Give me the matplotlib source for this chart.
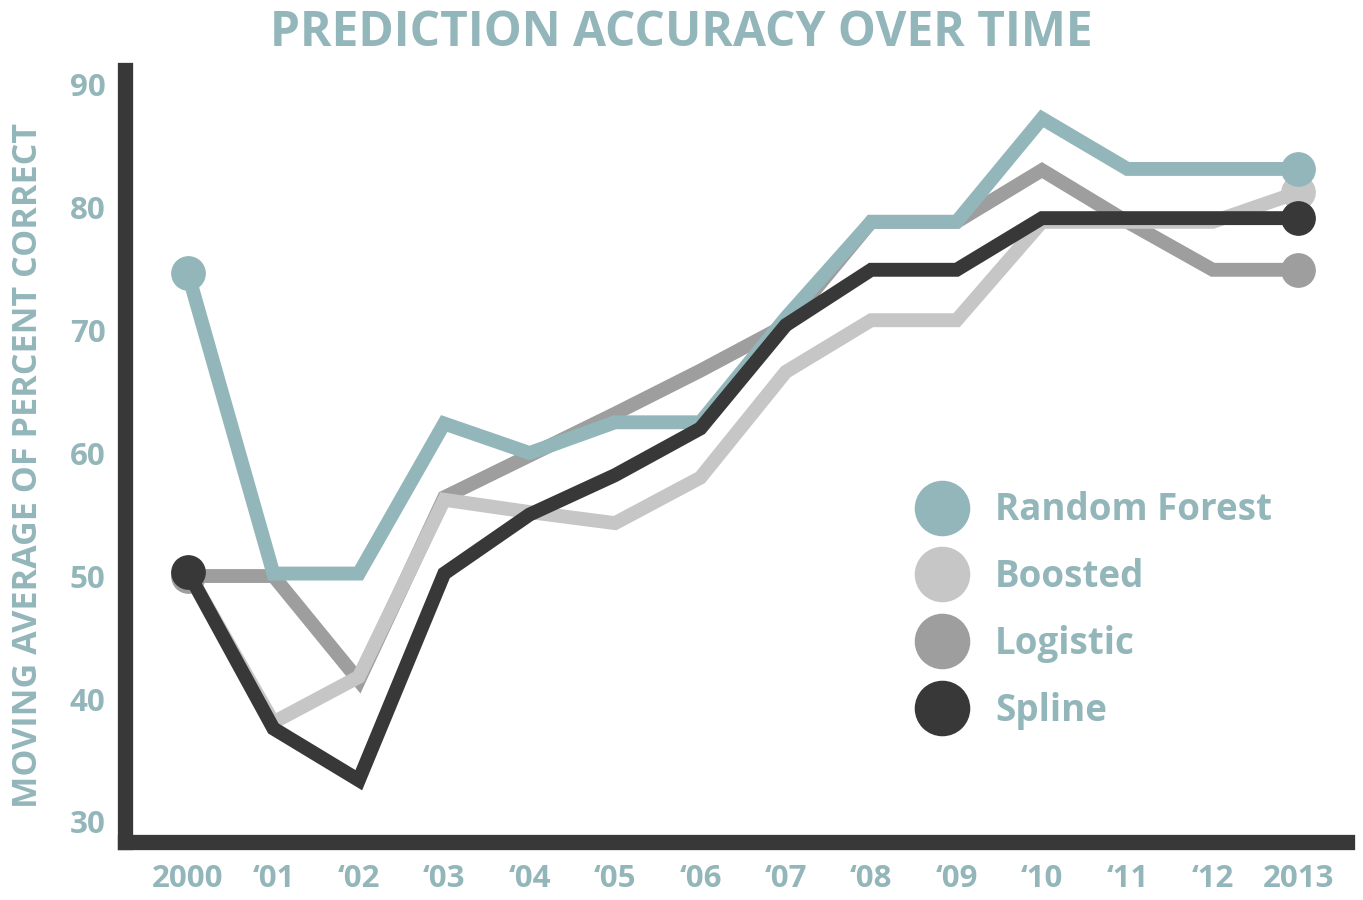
import numpy as np
import matplotlib.pyplot as plt
from matplotlib.lines import Line2D

years = ['2000', '\u201801', '\u201802', '\u201803', '\u201804', '\u201805', '\u201806',
         '\u201807', '\u201808', '\u201809', '\u201810', '\u201811', '\u201812', '2013']

random_forest = [74.6, 50.2, 50.2, 62.4, 60.0, 62.5, 62.5, 71.0, 78.8, 78.8, 87.2, 83.1, 83.1, 83.1]
boosted = [50.3, 38.1, 41.8, 56.2, 55.2, 54.3, 58.0, 66.6, 70.8, 70.8, 78.8, 78.8, 78.8, 81.2]
logistic = [50.0, 50.0, 41.5, 56.4, 59.8, 63.2, 66.7, 70.4, 78.8, 78.8, 83.0, 78.8, 74.9, 74.9]
spline = [50.3, 37.6, 33.4, 50.2, 55.0, 58.2, 62.0, 70.4, 74.9, 74.9, 79.1, 79.1, 79.1, 79.1]

teal = '#93b6ba'
light = '#c6c6c6'
mid = '#9e9e9e'
dark = '#383838'

plt.rcParams['font.family'] = ['Open Sans', 'DejaVu Sans']
plt.rcParams['font.weight'] = 'bold'

fig = plt.figure(figsize=(13.63, 9), dpi=100)
ax = fig.add_axes([0.0917, 0.0644, 0.8969, 0.8583])

x = np.arange(len(years))
lw = 10
ms = 24

# drawing order: logistic at the bottom, spline on top
ax.plot(x, logistic, color=mid, lw=lw, solid_joinstyle='miter', zorder=2)
ax.plot(x[[0, -1]], np.array(logistic)[[0, -1]], 'o', color=mid, ms=ms, zorder=2)
ax.plot(x, boosted, color=light, lw=lw, solid_joinstyle='miter', zorder=3)
ax.plot(x[[-1]], np.array(boosted)[[-1]], 'o', color=light, ms=ms, zorder=3)
ax.plot(x, random_forest, color=teal, lw=lw, solid_joinstyle='miter', zorder=4)
ax.plot(x[[0, -1]], np.array(random_forest)[[0, -1]], 'o', color=teal, ms=ms, zorder=4)
ax.plot(x, spline, color=dark, lw=lw, solid_joinstyle='miter', zorder=5)
ax.plot(x[[0, -1]], np.array(spline)[[0, -1]], 'o', color=dark, ms=ms, zorder=5)

ax.set_xlim(-0.738, 13.577)
ax.set_ylim(28.37, 91.18)
ax.set_xticks(x)
ax.set_xticklabels(years)
ax.set_yticks(np.arange(30, 91, 10))

for side in ['top', 'right']:
    ax.spines[side].set_visible(False)
for side in ['left', 'bottom']:
    ax.spines[side].set_color(dark)
    ax.spines[side].set_linewidth(11)
    ax.spines[side].set_capstyle('projecting')

ax.tick_params(length=0, labelsize=22.5, labelcolor=teal)
ax.tick_params(axis='y', pad=14)
ax.tick_params(axis='x', pad=16)

ax.set_ylabel('MOVING AVERAGE OF PERCENT CORRECT', fontsize=24.6, color=teal,
              fontweight='bold')
ax.yaxis.set_label_coords(-0.0654, 0.487)
fig.suptitle('PREDICTION ACCURACY OVER TIME', fontsize=34.5, color=teal,
             fontweight='bold', x=0.5, y=0.99)

handles = [Line2D([], [], marker='o', ls='', color=c, ms=39) for c in [teal, light, mid, dark]]
leg = ax.legend(handles, ['Random Forest', 'Boosted', 'Logistic', 'Spline'],
                loc='upper left', bbox_to_anchor=(0.6264, 0.473), frameon=False,
                handletextpad=0.43, labelspacing=0.78, borderaxespad=0,
                prop={'size': 26.5, 'weight': 'bold'})
for t in leg.get_texts():
    t.set_color(teal)

fig.savefig('out.png', dpi=100)
